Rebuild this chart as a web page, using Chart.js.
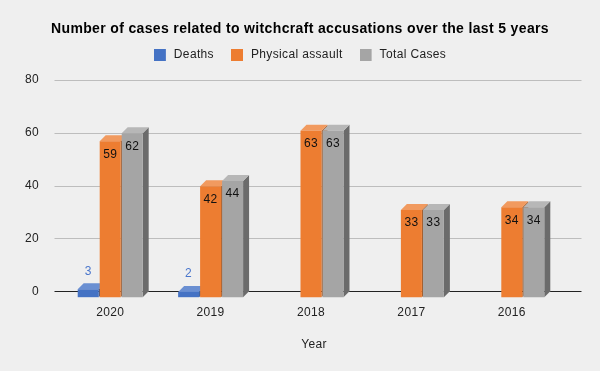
<!DOCTYPE html>
<html><head><meta charset="utf-8">
<style>html,body{margin:0;padding:0;background:#efefef}canvas{display:block}</style>
<script src="https://cdn.jsdelivr.net/npm/chart.js@4"></script></head>
<body><div style="width:600px;height:371px"><canvas id="c" width="600" height="371"></canvas></div>
<script>
const categories = ["2020","2019","2018","2017","2016"];
const deaths = [3,2,null,null,null];
const physicalAssault = [59,42,63,33,34];
const totalCases = [62,44,63,33,34];
const yTicks = [0,20,40,60,80];
const DEPTH = 6;
const FONT = '"Liberation Sans", Arial, sans-serif';
function swatch(color){
  const s=document.createElement('canvas');s.width=14;s.height=12;
  const x=s.getContext('2d');x.fillStyle=color;x.fillRect(0,0,12,12);return s;
}
const spacing = {id:'spacing',beforeUpdate(c){c.ctx.letterSpacing='0.35px';},beforeDraw(c){c.ctx.letterSpacing='0.35px';}};
const titleShift = {id:'titleShift',afterLayout(c){
  const s=c.scales.x;
  if(s._shifted)return;s._shifted=true;
  const orig=s.drawTitle.bind(s);
  s.drawTitle=function(){const ctx=c.ctx;ctx.save();ctx.translate(3,0);orig();ctx.restore();};
}};
const grid3d = {id:'grid3d',beforeDatasetsDraw(c){
  const ctx=c.ctx,y=c.scales.y;ctx.save();
  yTicks.forEach(v=>{const p=Math.round(y.getPixelForValue(v)-DEPTH)+0.5;
    ctx.strokeStyle=v===0?'#222222':'#bdbdbd';ctx.lineWidth=1;
    ctx.beginPath();ctx.moveTo(54.5,p);ctx.lineTo(581.5,p);ctx.stroke();});
  ctx.restore();}};
const bars3d = {id:'bars3d',
  beforeDatasetDraw(){return false;},
  afterDatasetsDraw(c){
    const ctx=c.ctx;
    c.data.datasets.forEach((ds,k)=>{
      const meta=c.getDatasetMeta(k);
      ctx.save();
      meta.data.forEach((b,i)=>{ if(ds.data[i]==null)return;
        const l=b.x-b.width/2,r=b.x+b.width/2,t=b.y,bt=b.base;
        ctx.fillStyle=ds.sideColor;ctx.beginPath();
        ctx.moveTo(r,t);ctx.lineTo(r+DEPTH,t-DEPTH);ctx.lineTo(r+DEPTH,bt-DEPTH);ctx.lineTo(r,bt);ctx.closePath();ctx.fill();
        ctx.fillStyle=ds.topColor;ctx.beginPath();
        ctx.moveTo(l,t);ctx.lineTo(l+DEPTH,t-DEPTH);ctx.lineTo(r+DEPTH,t-DEPTH);ctx.lineTo(r,t);ctx.closePath();ctx.fill();
      });
      ctx.restore();
      meta.controller.draw();
    });
  }};
const valueLabels = {id:'valueLabels',afterDatasetsDraw(c){
  const ctx=c.ctx;ctx.save();ctx.font='12px '+FONT;ctx.textAlign='center';ctx.textBaseline='middle';
  c.data.datasets.forEach((ds,k)=>{c.getDatasetMeta(k).data.forEach((b,i)=>{
    const v=ds.data[i];if(v==null)return;
    if(k===0){ctx.fillStyle='#4a76cc';ctx.fillText(v,b.x,b.y-18);}
    else{ctx.fillStyle='#111111';ctx.fillText(v,b.x,b.y+13);}
  });});ctx.restore();}};
const common = {categoryPercentage:0.657,barPercentage:0.955,xAxisID:'x',yAxisID:'y'};
new Chart(document.getElementById('c'),{
  type:'bar',
  data:{labels:categories,datasets:[
    {label:'Deaths',data:deaths,backgroundColor:'#4472c4',sideColor:'#2f4f88',topColor:'#6a8fd2',...common},
    {label:'Physical assault',data:physicalAssault,backgroundColor:'#ed7d31',sideColor:'#a45722',topColor:'#f19a5f',...common},
    {label:'Total Cases',data:totalCases,backgroundColor:'#a5a5a5',sideColor:'#6b6b6b',topColor:'#b7b7b7',...common}
  ]},
  plugins:[spacing,titleShift,grid3d,bars3d,valueLabels],
  options:{
    responsive:false,animation:false,
    layout:{padding:{left:0,right:0,top:0,bottom:19}},
    plugins:{
      title:{display:true,text:'Number of cases related to witchcraft accusations over the last 5 years',
        color:'#000000',font:{family:FONT,size:14,weight:'bold'},padding:{top:21,bottom:-6}},
      legend:{position:'top',labels:{color:'#222222',font:{family:FONT,size:12},boxWidth:12,boxHeight:12,padding:17,
        usePointStyle:true,pointStyleWidth:14,
        generateLabels(c){
          return Chart.defaults.plugins.legend.labels.generateLabels(c).map((l,i)=>({...l,pointStyle:swatch(c.data.datasets[i].backgroundColor)}));
        }}},
      tooltip:{enabled:false}
    },
    scales:{
      x:{grid:{display:false},border:{display:false},
        ticks:{color:'#222222',font:{family:FONT,size:12},padding:0,maxRotation:0},
        title:{display:true,text:'Year',color:'#222222',font:{family:FONT,size:12},padding:{top:18,bottom:0}}},
      x2:{axis:'x',position:'top',grid:{display:false},border:{display:false},ticks:{display:false},
        afterFit(s){s.height=15;}},
      y:{min:0,max:80,grid:{display:false},border:{display:false},
        afterBuildTicks(s){s.ticks=yTicks.map(v=>({value:v}));},
        ticks:{color:'#222222',font:{family:FONT,size:12},padding:13,labelOffset:-DEPTH},
        afterFit(s){s.width=60;}},
      y2:{axis:'y',position:'right',grid:{display:false},border:{display:false},ticks:{display:false},
        afterFit(s){s.width=38;}}
    }
  }
});
</script></body></html>
